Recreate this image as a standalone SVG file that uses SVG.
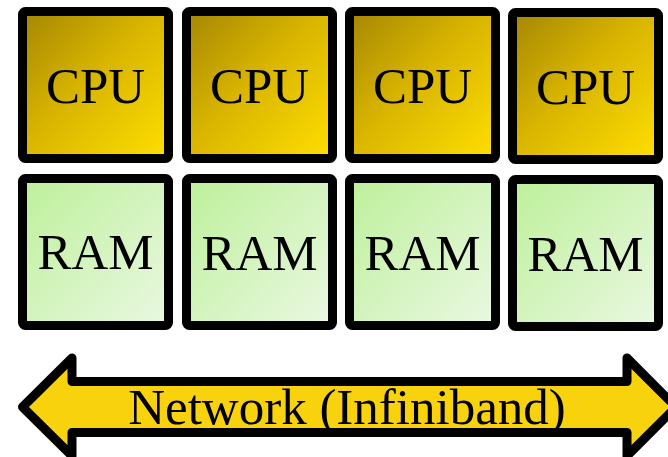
<svg xmlns="http://www.w3.org/2000/svg" width="668" height="457" viewBox="0 0 668 457">
  <defs>
    <linearGradient id="cpuFill" x1="0" y1="0" x2="1" y2="1">
      <stop offset="0" stop-color="#a48604"/>
      <stop offset="0.45" stop-color="#d8b400"/>
      <stop offset="1" stop-color="#ffdf00"/>
    </linearGradient>
    <linearGradient id="ramFill" x1="0" y1="0" x2="1" y2="1">
      <stop offset="0" stop-color="#bdf09a"/>
      <stop offset="1" stop-color="#eaf8e2"/>
    </linearGradient>
    <style>
      .box { stroke: #000; stroke-width: 9; }
      .cpu { fill: url(#cpuFill); }
      .ram { fill: url(#ramFill); }
      .lbl { font-family: "Liberation Serif", "Times New Roman", serif; font-size: 51px; fill: #000; text-anchor: middle; }
      .net { fill: #f8d20c; stroke: #000; stroke-width: 9; stroke-linejoin: round; }
    </style>
  </defs>

  <!-- processor row -->
  <g id="cpu1"><rect class="box cpu" x="22.5" y="11.5" width="146" height="147" rx="3"/><text class="lbl" x="95.5" y="103">CPU</text></g>
  <g id="cpu2"><rect class="box cpu" x="186.5" y="11.5" width="146" height="147" rx="3"/><text class="lbl" x="259.5" y="103">CPU</text></g>
  <g id="cpu3"><rect class="box cpu" x="349.5" y="11.5" width="146" height="147" rx="3"/><text class="lbl" x="422.5" y="103">CPU</text></g>
  <g id="cpu4"><rect class="box cpu" x="512.5" y="12.5" width="146" height="147" rx="3"/><text class="lbl" x="585.5" y="104">CPU</text></g>

  <!-- memory row -->
  <g id="ram1"><rect class="box ram" x="22.5" y="178.5" width="146" height="147" rx="3"/><text class="lbl" x="95.5" y="269">RAM</text></g>
  <g id="ram2"><rect class="box ram" x="186.5" y="178.5" width="146" height="147" rx="3"/><text class="lbl" x="259.5" y="270">RAM</text></g>
  <g id="ram3"><rect class="box ram" x="349.5" y="178.5" width="146" height="147" rx="3"/><text class="lbl" x="422.5" y="270">RAM</text></g>
  <g id="ram4"><rect class="box ram" x="512.5" y="179.5" width="146" height="147" rx="3"/><text class="lbl" x="585.5" y="271">RAM</text></g>

  <!-- interconnect: double-headed arrow -->
  <g id="network">
    <path class="net" d="M 22.5 407 L 72 358 L 72 381.5 L 627 381.5 L 627 358 L 676 407 L 627 456 L 627 432.5 L 72 432.5 L 72 456 Z"/>
    <text class="lbl" x="347" y="424" font-size="52.5">Network (Infiniband)</text>
  </g>
</svg>
